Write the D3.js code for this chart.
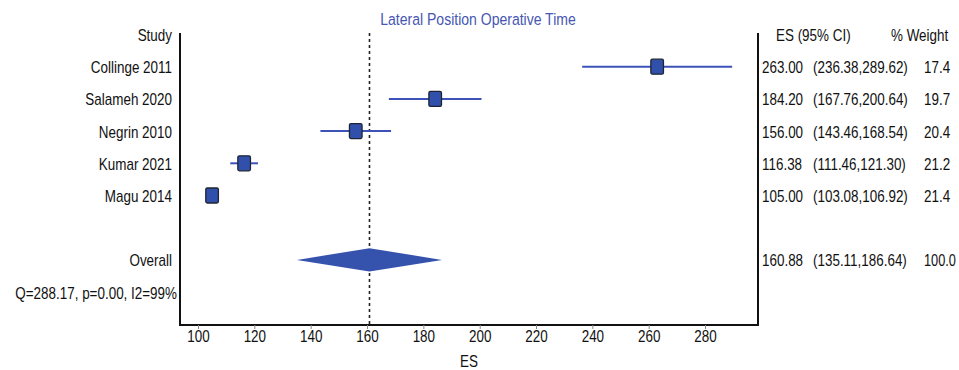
<!DOCTYPE html>
<html>
<head>
<meta charset="utf-8">
<script src="https://cdn.jsdelivr.net/npm/d3@7"></script>
<style>
  body { margin: 0; background: #fff; }
  svg text { font-family: "Liberation Sans", Arial, sans-serif; font-size: 16px; fill: #111; }
  .axis .domain { stroke: #111; stroke-width: 2; }
  .axis .tick line { stroke: #888; }
</style>
</head>
<body>
<div id="chart"></div>
<script>
// data
var studies = ["Collinge 2011", "Salameh 2020", "Negrin 2010", "Kumar 2021", "Magu 2014"];
var es = [263.00, 184.20, 156.00, 116.38, 105.00];
var ciLow = [236.38, 167.76, 143.46, 111.46, 103.08];
var ciHigh = [289.62, 200.64, 168.54, 121.30, 106.92];
var weights = [17.4, 19.7, 20.4, 21.2, 21.4];
var overallEs = 160.88, overallLow = 135.11, overallHigh = 186.64, overallWeight = 100.0;
var heterogeneity = "Q=288.17, p=0.00, I2=99%";
var xTicks = [100, 120, 140, 160, 180, 200, 220, 240, 260, 280];

var width = 959, height = 370;
var squeezeK = 0.84;   // reference text is horizontally condensed

var svg = d3.select("#chart").append("svg")
    .attr("width", width).attr("height", height);

var plotLeft = 180, plotRight = 758, plotTop = 33, plotBottom = 325;

var xScale = d3.scaleLinear().domain([93.61, 298.8]).range([plotLeft, plotRight]);
// row index -> vertical centre (0 = header, 1..5 studies, 7 overall, 8 heterogeneity)
var rowY = d3.scaleLinear().domain([0, 8]).range([34.5, 292.1]);

// condense text horizontally: move x/y into a transform and scale x only
function squeeze(sel, k)
{
  sel.each(function()
  {
    var t = d3.select(this);
    var x = +t.attr("x") || 0, y = +t.attr("y") || 0;
    t.attr("x", 0).attr("y", 0)
     .attr("transform", "translate(" + x + "," + y + ") scale(" + (k || squeezeK) + ",1)");
  });
}

// title
svg.append("text")
    .attr("x", 478).attr("y", 25)
    .attr("text-anchor", "middle")
    .style("fill", "#4656b2")
    .style("font-size", "16.5px")
    .text("Lateral Position Operative Time")
    .call(squeeze, 0.85);

// x axis
var xAxisCall = d3.axisBottom(xScale).tickValues(xTicks).tickSize(4).tickSizeOuter(0).tickPadding(2);
var gx = svg.append("g").attr("class", "x axis")
    .attr("transform", "translate(0," + plotBottom + ")")
    .call(xAxisCall);
gx.selectAll(".tick text").style("font-size", "16px").style("font-family", null).call(squeeze);
gx.select(".domain").attr("d", "M" + (plotLeft - 1) + ",0H" + (plotRight + 1));

svg.append("text")
    .attr("x", 469).attr("y", 367)
    .attr("text-anchor", "middle")
    .text("ES")
    .call(squeeze);

// frame lines left / right
svg.append("line")
    .attr("x1", plotLeft).attr("x2", plotLeft)
    .attr("y1", plotTop).attr("y2", plotBottom + 1)
    .attr("stroke", "#111").attr("stroke-width", 2);
svg.append("line")
    .attr("x1", plotRight).attr("x2", plotRight)
    .attr("y1", plotTop).attr("y2", plotBottom + 1)
    .attr("stroke", "#111").attr("stroke-width", 2);

// dotted line at overall estimate
svg.append("line")
    .attr("x1", xScale(overallEs)).attr("x2", xScale(overallEs))
    .attr("y1", plotTop).attr("y2", plotBottom)
    .attr("stroke", "#222").attr("stroke-width", 1.6)
    .attr("stroke-dasharray", "3,3");

// study rows
var rows = studies.map(function(s, i)
{
  return { name: s, es: es[i], lo: ciLow[i], hi: ciHigh[i], w: weights[i], row: i + 1 };
});

var g = svg.selectAll(".study").data(rows).enter().append("g").attr("class", "study");

g.append("line")
    .attr("x1", function(d) { return xScale(d.lo); })
    .attr("x2", function(d) { return xScale(d.hi); })
    .attr("y1", function(d) { return rowY(d.row); })
    .attr("y2", function(d) { return rowY(d.row); })
    .attr("stroke", "#3d52b8").attr("stroke-width", 2);

g.append("rect")
    .attr("x", function(d) { return xScale(d.es) - 6.3; })
    .attr("y", function(d) { return rowY(d.row) - 7.5; })
    .attr("width", 12.6).attr("height", 15)
    .attr("rx", 1.5)
    .attr("fill", "#3150ab").attr("stroke", "#1e2430").attr("stroke-width", 1.3);

// overall diamond
svg.append("path")
    .attr("d", "M" + xScale(overallLow) + "," + rowY(7) +
               "L" + xScale(overallEs) + "," + (rowY(7) - 11.7) +
               "L" + xScale(overallHigh) + "," + rowY(7) +
               "L" + xScale(overallEs) + "," + (rowY(7) + 11.7) + "Z")
    .attr("fill", "#3552ad");

// left labels
var leftLabels = [{ t: "Study", row: 0 }].concat(rows.map(function(d) { return { t: d.name, row: d.row }; }));
leftLabels.push({ t: "Overall", row: 7 });
svg.selectAll(".leftlabel").data(leftLabels).enter().append("text")
    .attr("class", "leftlabel")
    .attr("x", 172)
    .attr("y", function(d) { return rowY(d.row) + 6.5; })
    .attr("text-anchor", "end")
    .text(function(d) { return d.t; })
    .call(squeeze);

svg.append("text")
    .attr("x", 177).attr("y", rowY(8) + 6.5)
    .attr("text-anchor", "end")
    .text(heterogeneity)
    .call(squeeze);

// right columns
var fmt = d3.format(".2f");
var rightRows = rows.map(function(d) { return { es: d.es, lo: d.lo, hi: d.hi, w: d.w, row: d.row }; });
rightRows.push({ es: overallEs, lo: overallLow, hi: overallHigh, w: overallWeight, row: 7 });

svg.append("text").attr("x", 776).attr("y", rowY(0) + 6.5).text("ES (95% CI)").call(squeeze);
svg.append("text").attr("x", 891).attr("y", rowY(0) + 6.5).text("% Weight").call(squeeze);

var weightX = 924, weightMaxRight = 956;
var rg = svg.selectAll(".rightrow").data(rightRows).enter().append("g").attr("class", "rightrow");
rg.append("text")
    .attr("x", 762).attr("y", function(d) { return rowY(d.row) + 6.5; })
    .text(function(d) { return fmt(d.es); })
    .call(squeeze);
rg.append("text")
    .attr("x", 813).attr("y", function(d) { return rowY(d.row) + 6.5; })
    .text(function(d) { return "(" + fmt(d.lo) + "," + fmt(d.hi) + ")"; })
    .call(squeeze);
rg.append("text")
    .attr("x", weightX).attr("y", function(d) { return rowY(d.row) + 6.5; })
    .text(function(d) { return d3.format(".1f")(d.w); })
    .each(function(d)
    {
      // keep the widest weight inside the right edge
      var natural = this.getComputedTextLength();
      var k = weightX + natural * squeezeK > weightMaxRight ? (weightMaxRight - weightX) / natural : squeezeK;
      d3.select(this).call(squeeze, k);
    });
</script>
</body>
</html>
